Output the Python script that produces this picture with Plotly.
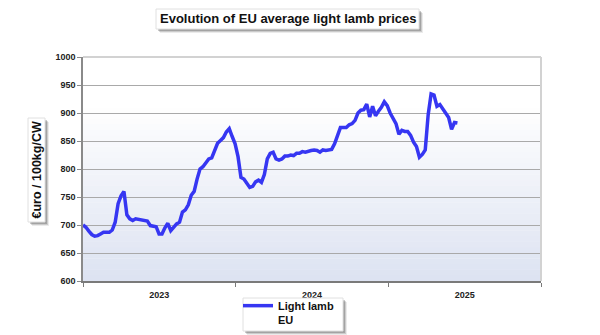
import pandas as pd
import plotly.graph_objects as go

# Weekly EU average light lamb price, EUR / 100 kg carcass weight
start_week = "2023-01-01"
prices = [
    700, 696, 689, 683, 680, 681, 684, 687, 687, 687, 691, 705, 738, 752, 760,
    718, 711, 708, 711, 710, 710, 708, 707, 699, 698, 697, 684, 684, 695, 703,
    690, 697, 702, 705, 723, 727, 736, 753, 760, 782, 800, 804, 810, 818, 820,
    835, 846, 851, 856, 866, 872, 858, 845, 822, 785, 782, 775, 767, 769, 777,
    780, 776, 790, 818, 828, 830, 818, 816, 818, 823, 823, 825, 824, 828, 828,
    831, 830, 832, 833, 834, 833, 830, 834, 833, 834, 835, 845, 862, 874, 874,
    874, 879, 881, 887, 900, 905, 906, 916, 893, 912, 895, 903, 910, 920, 913,
    900, 890, 881, 862, 869, 867, 867, 860, 848, 840, 821, 826, 834, 897, 934,
    932, 912, 915, 908, 900, 892, 871, 883, 882,
]
weeks = pd.date_range(start_week, periods=len(prices), freq="7D")

series_name = "Light lamb<br>EU"
title_text = "Evolution of EU average light lamb prices"
y_title = "€uro / 100kg/CW"
y_ticks = [600, 650, 700, 750, 800, 850, 900, 950, 1000]
x_range = ["2023-01-01", "2026-01-01"]

W, H = 600, 335
ML, MR, MT, MB = 83, 59, 57, 54
PW, PH = W - ML - MR, H - MT - MB


def px_x(px):
    return (px - ML) / PW


def px_y(py):
    return (H - MB - py) / PH


fig = go.Figure()
fig.add_trace(go.Scatter(
    x=weeks, y=prices, mode="lines", name=series_name,
    line=dict(color="#3636f2", width=3.5, shape="linear"),
))

shapes = []
# soft vertical gradient inside the plot area
n_strips = 40
for i in range(n_strips):
    f0, f1 = i / n_strips, (i + 1) / n_strips
    t = min(1.0, ((f0 + f1) / 2) / 0.78)
    r = int(221 + (255 - 221) * t)
    g = int(227 + (255 - 227) * t)
    b = int(242 + (255 - 242) * t)
    shapes.append(dict(type="rect", xref="x domain", yref="y domain",
                       x0=0, x1=1, y0=f0, y1=f1 + 0.002, layer="below",
                       line=dict(width=0), fillcolor=f"rgb({r},{g},{b})"))
# light frame on top and right
shapes.append(dict(type="line", xref="paper", yref="paper", x0=0, x1=1,
                   y0=1, y1=1, line=dict(color="#d2d2d2", width=2), layer="above"))
shapes.append(dict(type="line", xref="paper", yref="paper", x0=1, x1=1,
                   y0=0, y1=1, line=dict(color="#d2d2d2", width=2), layer="above"))


def boxed(x0, y0, x1, y1):
    """White box with a soft drop shadow, given in pixels."""
    out = []
    for off, a in [(4, 0.10), (3, 0.18), (2, 0.28)]:
        out.append(dict(type="rect", xref="paper", yref="paper",
                        x0=px_x(x0 + off), x1=px_x(x1 + off),
                        y0=px_y(y1 + off), y1=px_y(y0 + off),
                        line=dict(width=0), fillcolor=f"rgba(60,60,60,{a})",
                        layer="above"))
    out.append(dict(type="rect", xref="paper", yref="paper",
                    x0=px_x(x0), x1=px_x(x1), y0=px_y(y1), y1=px_y(y0),
                    line=dict(color="#e0e0e0", width=1), fillcolor="white",
                    layer="above"))
    return out


shapes += boxed(156, 9, 419, 29)     # title box
shapes += boxed(28, 118, 45, 222)    # y-axis title box
shapes += boxed(243, 298, 343, 331)  # legend box

annotations = [
    dict(text=f"<b>{title_text}</b>", xref="paper", yref="paper",
         x=px_x(287.5), y=px_y(19), xanchor="center", yanchor="middle",
         showarrow=False, font=dict(family="Liberation Sans, Arial", size=13,
                                    color="#111")),
    dict(text=f"<b>{y_title}</b>", xref="paper", yref="paper",
         x=px_x(36.5), y=px_y(170), xanchor="center", yanchor="middle",
         textangle=-90, showarrow=False,
         font=dict(family="Liberation Sans, Arial", size=12.5, color="#111")),
]

fig.update_layout(
    width=W, height=H,
    margin=dict(l=ML, r=MR, t=MT, b=MB, pad=0, autoexpand=False),
    paper_bgcolor="white", plot_bgcolor="white",
    showlegend=True,
    legend=dict(
        x=px_x(238), y=px_y(292), xanchor="left", yanchor="top",
        bgcolor="rgba(0,0,0,0)", borderwidth=0,
        font=dict(family="Liberation Sans, Arial", size=11, color="#111",
                  weight="bold"),
        valign="top", itemwidth=30,
    ),
    shapes=shapes,
    annotations=annotations,
    xaxis=dict(
        type="date", range=x_range, tick0="2023-01-01", dtick="M12",
        ticklabelmode="period", tickformat="%Y",
        showgrid=False, showline=True, linecolor="#7a7a7a", linewidth=1.5,
        ticks="outside", ticklen=4, tickcolor="#7a7a7a",
        ticklabelstandoff=0,
        tickfont=dict(family="Liberation Sans, Arial", size=9, color="#222",
                      weight="bold"),
        fixedrange=True,
    ),
    yaxis=dict(
        range=[600, 1000], tickvals=y_ticks,
        showgrid=True, gridcolor="#a9a9a9", gridwidth=1,
        showline=True, linecolor="#8a8a8a", linewidth=1.5,
        ticks="outside", ticklen=4, tickcolor="#8a8a8a",
        tickfont=dict(family="Liberation Sans, Arial", size=9, color="#222",
                      weight="bold"),
        zeroline=False, fixedrange=True,
    ),
)

fig.write_html("out.html")
